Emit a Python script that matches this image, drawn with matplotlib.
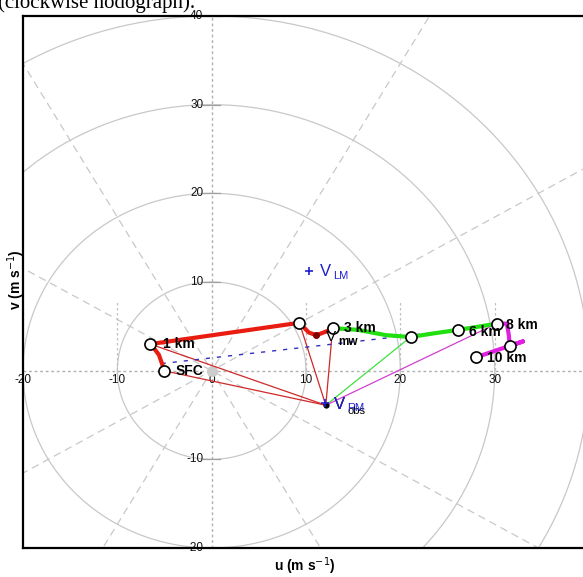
import numpy as np
import matplotlib
matplotlib.use('Agg')
import matplotlib.pyplot as plt

plt.rcParams['font.family'] = ['Liberation Sans', 'DejaVu Sans']

# hodograph trace (u, v in m/s), split by layer colour
trace_0_3_u = [-5.1, -5.2, -5.6, -6.1, -6.5, 9.3, 10.3, 11.1, 12.1, 12.9]
trace_0_3_v = [0.0, 0.6, 1.8, 2.5, 3.0, 5.4, 4.3, 4.0, 4.4, 4.8]
trace_3_8_u = [12.9, 15.5, 18.5, 21.1, 23.5, 26.1, 28.5, 30.2]
trace_3_8_v = [4.8, 4.6, 4.0, 3.8, 4.2, 4.6, 5.0, 5.3]
trace_8_10_u = [30.2, 31.3, 31.5, 31.6, 33.0, 31.6, 28.0]
trace_8_10_v = [5.3, 5.3, 4.0, 2.8, 3.3, 2.8, 1.5]

# height markers
mark_u = [-5.1, -6.5, 9.3, 12.9, 21.1, 26.1, 30.2, 31.6, 28.0]
mark_v = [0.0, 3.0, 5.4, 4.8, 3.8, 4.6, 5.3, 2.8, 1.5]
label_names = ['SFC', '1 km', '3 km', '6 km', '8 km', '10 km']
label_u = [-3.8, -5.2, 14.0, 27.3, 31.2, 29.2]
label_v = [0.0, 3.0, 4.8, 4.4, 5.2, 1.4]

# storm motions
storm_u, storm_v = 12.1, -3.9        # observed
rm_u, rm_v = 12.0, -3.6              # right mover
lm_u, lm_v = 10.3, 11.2              # left mover
mw_u, mw_v = 12.7, 3.3               # mean wind
dip_u, dip_v = 11.1, 4.0

# red lines from storm motion to low-level points
red_to_u = [-5.1, -6.5, 9.3, mw_u]
red_to_v = [0.0, 3.0, 5.4, mw_v]
green_to = (21.1, 3.8)
magenta_to = (30.2, 5.3)
shear_u = [-5.3, 26.1]
shear_v = [0.8, 4.6]

tick_vals = [-20, -10, 10, 20, 30, 40]

fig = plt.figure(figsize=(5.83, 5.77), dpi=100)
ax = fig.add_axes([23/583, 1-548/577, 566/583, 532/577])
ax.set_xlim(-20, 40)
ax.set_ylim(-20, 40)

# rings and spokes
th = np.linspace(0, 2*np.pi, 400)
for r in [10, 20, 30, 40]:
    ax.plot(r*np.cos(th), r*np.sin(th), color='#c8c8c8', lw=0.9, zorder=1)
for a in [30, 60, 120, 150]:
    t = np.deg2rad(a)
    ax.plot([-60*np.cos(t), 60*np.cos(t)], [-60*np.sin(t), 60*np.sin(t)],
            color='#c8c8c8', lw=0.9, ls=(0, (6, 4)), zorder=1)
ax.axhline(0, color='#b0b0b0', lw=1, ls=(0, (2, 2)), zorder=1)
ax.axvline(0, color='#b0b0b0', lw=1, ls=(0, (2, 2)), zorder=1)

# tick labels along the centre lines
for t in tick_vals:
    ax.plot([-0.9, 0.9], [t, t], color='#a0a0a0', lw=0.9, zorder=1)
    ax.text(-0.9, t, str(t), ha='right', va='center', fontsize=8.5, color='#111111', zorder=2)
for t in tick_vals + [0]:
    if t != 0:
        ax.plot([t, t], [-1.0, 8.0], color='#c0c0c0', lw=0.9, ls=(0, (2, 2)), zorder=1)
    ax.text(t, -1.0, str(t), ha='center', va='center', fontsize=8.5, color='#111111', zorder=2)

ax.plot(0, 0, 'o', color='#cccccc', ms=7, zorder=2)

# lines from storm motion
for u, v in zip(red_to_u, red_to_v):
    ax.plot([storm_u, u], [storm_v, v], color='#d02828', lw=0.9, zorder=3)
ax.plot([storm_u, green_to[0]], [storm_v, green_to[1]], color='#40e040', lw=0.9, zorder=3)
ax.plot([storm_u, magenta_to[0]], [storm_v, magenta_to[1]], color='#d040d0', lw=0.9, zorder=3)
ax.plot(shear_u, shear_v, color='#3030c0', lw=1, ls=(0, (3, 5)), zorder=3)

# hodograph trace
ax.plot(trace_0_3_u, trace_0_3_v, color='#e81c10', lw=3, solid_capstyle='round', zorder=4)
ax.plot(trace_3_8_u, trace_3_8_v, color='#22e010', lw=3, solid_capstyle='round', zorder=4)
ax.plot(trace_8_10_u, trace_8_10_v, color='#e020e0', lw=3, solid_capstyle='round', zorder=4)
ax.plot(dip_u, dip_v, 'o', color='#800000', ms=4, zorder=5)
ax.plot(mark_u, mark_v, 'o', mfc='white', mec='black', mew=1.2, ms=8, ls='none', zorder=6)

for name, u, v in zip(label_names, label_u, label_v):
    ax.text(u, v, name, ha='left', va='center', fontsize=10, fontweight='bold', zorder=7)

# mean wind
ax.text(mw_u, mw_v + 0.5, 'V', ha='center', va='center', fontsize=11, zorder=7)
ax.text(mw_u + 0.7, mw_v - 0.1, 'mw', ha='left', va='center', fontsize=8.5, fontweight='bold', zorder=7)

# storm motion markers
ax.plot(storm_u, storm_v, 'o', color='black', ms=3.5, zorder=7)
ax.plot(rm_u, rm_v, '+', color='#2020d0', ms=6, mew=1.2, zorder=7)
ax.text(rm_u + 1.0, rm_v - 0.2, 'V', ha='left', va='center', fontsize=12, color='#2020d0', zorder=8)
ax.text(rm_u + 2.4, rm_v - 0.6, 'RM', ha='left', va='center', fontsize=8, color='#2020d0', zorder=8)
ax.text(storm_u + 0.9, storm_v + 0.1, 'V', ha='left', va='center', fontsize=12, color='black', zorder=7)
ax.text(storm_u + 2.3, storm_v - 0.7, 'obs', ha='left', va='center', fontsize=8, color='black', zorder=7)

ax.plot(lm_u, lm_v, '+', color='#2020d0', ms=6, mew=1.2, zorder=7)
ax.text(lm_u + 1.2, lm_v, 'V', ha='left', va='center', fontsize=12, color='#2020d0', zorder=7)
ax.text(lm_u + 2.6, lm_v - 0.5, 'LM', ha='left', va='center', fontsize=8, color='#2020d0', zorder=7)

ax.set_xticks([])
ax.set_yticks([])
for s in ['left', 'top', 'bottom']:
    ax.spines[s].set_linewidth(1.6)
ax.spines['right'].set_visible(False)

fig.text(16/583, 1-280/577, 'v (m s$^{-1}$)', rotation=90, ha='center', va='center',
         fontsize=10, fontweight='bold')
fig.text(305/583, 1-566/577, 'u (m s$^{-1}$)', ha='center', va='center',
         fontsize=10, fontweight='bold')
fig.text(-2/583, 1-8/577, '(clockwise hodograph).', ha='left', va='baseline',
         fontsize=15, family='Liberation Serif')

fig.savefig('out.png', dpi=100)
